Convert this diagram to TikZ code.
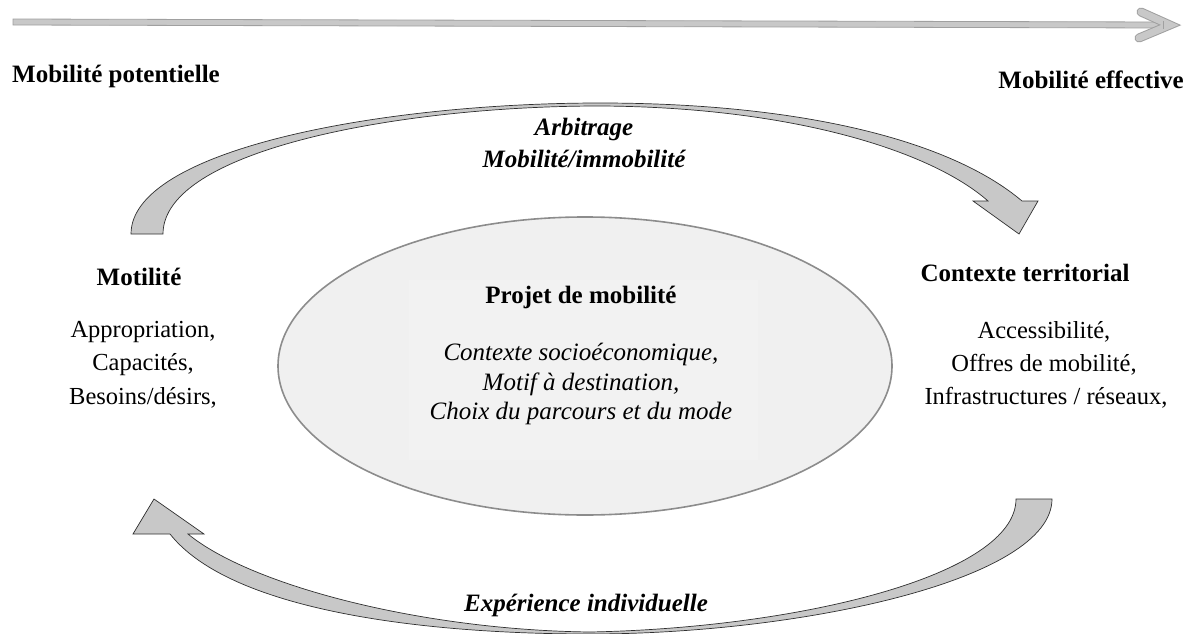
\documentclass[tikz,border=0pt]{standalone}
\usepackage{fontspec}
\setmainfont{Liberation Serif}
\definecolor{band}{HTML}{C8C8C8}
\definecolor{bandline}{HTML}{303030}
\definecolor{ovalfill}{HTML}{F0F0F0}
\definecolor{boxfill}{HTML}{F2F2F2}
\definecolor{ovalline}{HTML}{8C8C8C}
\definecolor{axisline}{HTML}{A0A0A0}
\begin{document}
\begin{tikzpicture} [
        x=1pt, y=-1pt,
        head/.style={font=\fontsize{25}{30}\selectfont\bfseries},
        item/.style={font=\fontsize{24.5}{29}\selectfont},
        note/.style={font=\fontsize{25}{30}\selectfont\bfseries\itshape},
        inside/.style={font=\fontsize{25}{30}\selectfont\itshape},
        bandarrow/.style={fill=band, draw=bandline, line width=0.7pt},
        align=center, inner sep=0pt ]
    \useasboundingbox (0,0) rectangle (1192,634);

    % axis
    \draw[fill=band, draw=axisline, line width=0.8pt] (13,19) -- (1163,22) -- (1163,28) -- (13,25) -- cycle;
    \draw[axisline, line width=9pt, line cap=round] (1141,12) -- (1170,25) -- (1139,38);
    \draw[band, line width=7pt, line cap=round] (1141,12) -- (1170,25) -- (1139,38);
    \draw[axisline, line width=0.8pt] (1163,21) -- (1163,29);
    \node[head, anchor=west] (pot) at (12,76) {Mobilité potentielle};
    \node[head, anchor=east] (eff) at (1184,80) {Mobilité effective};

    % upper arrow
    \draw[bandarrow] (131,234) .. controls (131,150) and (380,103) .. (600,103)
        .. controls (800,103) and (950,140) .. (1022,201)
        -- (1038,201) -- (1019,234) -- (973,201) -- (988,201)
        .. controls (930,150) and (790,107) .. (600,106)
        .. controls (400,106) and (163,150) .. (163,234) -- cycle;
    \node[note] (arb) at (584,129) {Arbitrage};
    \node[note] (imm) at (584,159) {Mobilité/immobilité};

    % lower arrow
    \draw[bandarrow] (170,534) .. controls (230,610) and (420,634) .. (590,634)
        .. controls (800,634) and (1052,580) .. (1052,499)
        -- (1016,499)
        .. controls (1016,575) and (800,628) .. (590,632)
        .. controls (420,630) and (250,585) .. (188,534)
        -- (204,534) -- (154,499) -- (133,534) -- cycle;
    \node[note] (exp) at (586,605) {Expérience individuelle};

    % projet
    \draw[fill=ovalfill, draw=ovalline, line width=1.6pt] (585,366) ellipse [x radius=307, y radius=149];
    \fill[boxfill] (409,280) rectangle (758,460);
    \node[head] (proj) at (581,297) {Projet de mobilité};
    \node[inside] (p1) at (581,354) {Contexte socioéconomique,};
    \node[inside] (p2) at (581,384) {Motif à destination,};
    \node[inside] (p3) at (581,413) {Choix du parcours et du mode};

    % motilite
    \node[head] (mot) at (139,277) {Motilité};
    \node[item] (m1) at (143,332) {Appropriation,};
    \node[item] (m2) at (143,365) {Capacités,};
    \node[item] (m3) at (143,398) {Besoins/désirs,};

    % contexte
    \node[head] (ctx) at (1025,273) {Contexte territorial};
    \node[item] (c1) at (1044,332) {Accessibilité,};
    \node[item] (c2) at (1044,365) {Offres de mobilité,};
    \node[item] (c3) at (1046,398) {Infrastructures / réseaux,};
\end{tikzpicture}
\end{document}
